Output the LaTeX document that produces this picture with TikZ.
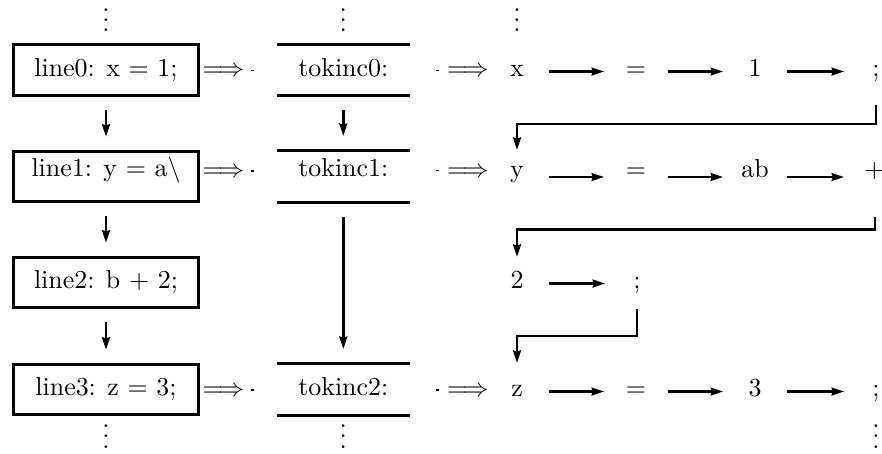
\documentclass[tikz,border=0pt]{standalone}
\usetikzlibrary{arrows.meta,calc}
\newcommand{\stackdots}{\vbox{\baselineskip4pt\lineskiplimit0pt\hbox{.}\hbox{.}\hbox{.}}}
\begin{document}
\begin{tikzpicture}[x=0.386pt,y=-0.386pt,
  linebox/.style={draw,line width=1.2pt,minimum width=71.4pt,minimum height=19.5pt,inner sep=0pt,outer sep=0pt,text height=7pt,text depth=2pt},
  tokbox/.style={minimum width=51.3pt,minimum height=20pt,inner sep=0pt,outer sep=0pt,text height=7pt,text depth=2pt},
  tok/.style={inner sep=0pt,outer sep=0pt,text height=6.5pt,text depth=2.5pt},
  rowtwo/.style={text height=6.5pt,text depth=6.5pt},
  rowtwobox/.style={text height=7pt,text depth=7pt},
  arr/.style={line width=1pt,-{Stealth[length=4.8pt,width=3pt,inset=0.4pt]}},
  vert/.style={arr,shorten <=5.6pt,shorten >=5.6pt},
  harr/.style={arr,shorten <=12.3pt,shorten >=12.3pt},
  corner/.style={arr,line width=1.1pt},
  bar/.style={line width=1.2pt},
  tick/.style={line width=0.5pt},
  dots/.style={inner sep=0pt,outer sep=0pt}
]
\useasboundingbox (0,0) rectangle (882,453);

% source lines
\node[linebox] (l0) at (106,70) {line0: x = 1;};
\node[linebox,rowtwobox] (l1) at (106,176.5) {line1: y = a$\backslash$};
\node[linebox] (l2) at (106,282.5) {line2: b + 2;};
\node[linebox] (l3) at (106,389.5) {line3: z = 3;};

% tokinc
\node[tokbox] (t0) at (343.3,70) {tokinc0:};
\node[tokbox,rowtwobox] (t1) at (343.3,176.5) {tokinc1:};
\node[tokbox] (t2) at (343.3,389.5) {tokinc2:};
\foreach \t in {t0,t1,t2}{
  \draw[bar] (\t.north west) -- (\t.north east);
  \draw[bar] (\t.south west) -- (\t.south east);
}

% implies
\node[tok] (ia0) at (223.5,71.5) {$\Longrightarrow$};
\node[tok,rowtwo] (ia1) at (223.5,177) {$\Longrightarrow$};
\node[tok] (ia3) at (223.5,391.5) {$\Longrightarrow$};
\node[tok] (ib0) at (468,71.5) {$\Longrightarrow$};
\node[tok,rowtwo] (ib1) at (468,177) {$\Longrightarrow$};
\node[tok] (ib3) at (468,391.5) {$\Longrightarrow$};

% tiny marks
\draw[tick] (250.5,70.5) -- (253.5,70.5);
\draw[tick] (250.5,171) -- (253.5,171);
\draw[tick] (250.5,390) -- (253.5,390);
\draw[tick] (435.5,70.5) -- (438.5,70.5);
\draw[tick] (435.5,170.5) -- (438.5,170.5);
\draw[tick] (435.5,390) -- (438.5,390);

% tokens row 1
\node[tok] (x1) at (517,71.5) {x};
\node[tok] (e1) at (636,71.5) {=};
\node[tok] (n1) at (755,71.5) {1};
\node[tok] (s1) at (876,71.5) {;};
% row 2
\node[tok,rowtwo] (y2) at (517,177) {y};
\node[tok,rowtwo] (e2) at (636,177) {=};
\node[tok,rowtwo] (ab2) at (755,177) {ab};
\node[tok,rowtwo] (p2) at (874.5,177) {+};
% row 3
\node[tok] (c3) at (517,283.5) {2};
\node[tok] (s3) at (637,283.5) {;};
% row 4
\node[tok] (z4) at (517,391.5) {z};
\node[tok] (e4) at (636,391.5) {=};
\node[tok] (n4) at (755,391.5) {3};
\node[tok] (s4) at (876,391.5) {;};

\draw[harr] (x1.center) -- (e1.center);
\draw[harr] (e1.center) -- (n1.center);
\draw[harr] (n1.center) -- (s1.center);
\draw[harr] (y2.center) -- (e2.center);
\draw[harr] (e2.center) -- (ab2.center);
\draw[harr,shorten >=11.7pt] (ab2.center) -- (p2.center);
\draw[harr] (c3.center) -- (s3.center);
\draw[harr] (z4.center) -- (e4.center);
\draw[harr] (e4.center) -- (n4.center);
\draw[harr] (n4.center) -- (s4.center);

% corner connectors
\draw[corner] ($(s1.center)+(0,33.5)$) -- ++(0,19) -| ($(y2.center)+(0,-27)$);
\draw[corner] ($(p2.center)+(0.5,40)$) -- ++(0,12.5) -| ($(c3.center)+(0,-26.5)$);
\draw[corner] ($(s3.center)+(0,25.5)$) -- ++(0,27) -| ($(z4.center)+(0,-28.5)$);

% vertical arrows
\draw[vert] (l0.south) -- (l1.north);
\draw[vert] (l1.south) -- (l2.north);
\draw[vert] (l2.south) -- (l3.north);
\draw[vert] (t0.south) -- (t1.north);
\draw[vert] (t1.south) -- (t2.north);

% vdots
\node[dots] (v1) at (106,20) {\stackdots};
\node[dots] (v2) at (343.3,20) {\stackdots};
\node[dots] (v3) at (517,20) {\stackdots};
\node[dots] (v4) at (106,436.5) {\stackdots};
\node[dots] (v5) at (343.3,436.5) {\stackdots};
\node[dots] (v6) at (876,436.5) {\stackdots};
\end{tikzpicture}
\end{document}
